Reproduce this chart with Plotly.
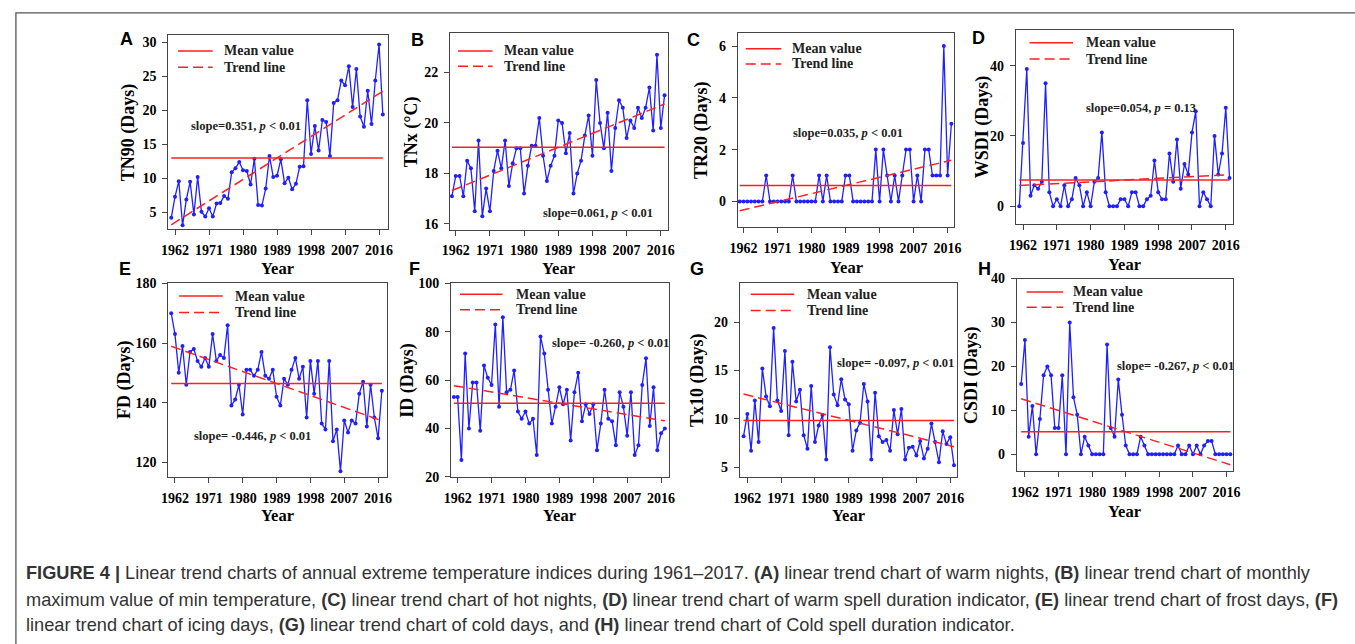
import numpy as np
import plotly.graph_objects as go

years = list(range(1961, 2018))

tn90 = [4.2, 7.3, 9.6, 3.1, 6.9, 9.5, 4.7, 10.2, 5.1, 4.4,
        5.6, 4.4, 6.3, 6.4, 7.4, 7.0, 10.9, 11.5, 12.4, 11.2,
        11.1, 9.1, 12.9, 6.1, 6.0, 8.5, 13.3, 10.2, 10.4, 12.8,
        9.3, 10.1, 8.4, 9.2, 11.7, 11.8, 21.5, 13.6, 17.7, 14.1,
        18.6, 18.3, 13.3, 21.1, 21.5, 24.4, 23.7, 26.5, 20.5, 26.1,
        19.1, 17.6, 22.9, 18.0, 24.4, 29.7, 19.4]

tnx = [17.1, 17.9, 17.9, 17.1, 18.5, 18.2, 16.5, 19.3, 16.3, 17.4,
       16.5, 18.1, 18.9, 18.2, 19.3, 17.5, 18.4, 19.0, 19.0, 17.2,
       18.3, 19.1, 19.1, 20.2, 18.7, 17.7, 18.3, 18.7, 20.1, 20.0,
       18.8, 19.6, 17.2, 18.0, 18.5, 19.5, 20.3, 18.7, 21.7, 20.0,
       19.0, 20.4, 18.1, 19.8, 20.9, 20.6, 19.4, 20.1, 19.8, 20.6,
       20.2, 20.6, 21.4, 19.7, 22.7, 19.8, 21.1]

tr20 = [0, 0, 0, 0, 0, 0, 0, 1, 0, 0,
        0, 0, 0, 0, 1, 0, 0, 0, 0, 0,
        0, 1, 0, 1, 0, 0, 0, 0, 1, 1,
        0, 0, 0, 0, 0, 0, 2, 0, 2, 1,
        0, 1, 0, 1, 2, 2, 0, 1, 0, 2,
        2, 1, 1, 1, 6, 1, 3]

wsdi = [0, 18, 39, 3, 6, 5, 7, 35, 4, 0,
        2, 0, 6, 0, 2, 8, 6, 0, 4, 0,
        7, 8, 21, 4, 0, 0, 0, 2, 2, 0,
        4, 4, 0, 0, 2, 3, 13, 4, 2, 2,
        15, 7, 19, 5, 12, 9, 21, 27, 0, 4,
        2, 0, 20, 9, 15, 28, 8]

fd = [170, 163, 150, 159, 146, 157, 158, 154, 152, 155,
      152, 163, 154, 156, 155, 166, 139, 141, 146, 136,
      151, 151, 149, 151, 157, 149, 148, 151, 142, 139,
      148, 146, 151, 155, 148, 152, 135, 154, 143, 154,
      133, 131, 154, 127, 131, 117, 134, 130, 134, 133,
      143, 147, 132, 146, 135, 128, 144]

id_days = [53, 53, 27, 71, 40, 59, 59, 39, 66, 61,
           58, 83, 49, 86, 55, 56, 64, 47, 44, 47,
           42, 44, 29, 78, 71, 56, 42, 49, 57, 50,
           56, 35, 55, 63, 43, 50, 46, 50, 31, 42,
           56, 44, 43, 33, 55, 49, 37, 55, 29, 33,
           58, 69, 41, 57, 31, 38, 40]

tx10 = [8.2, 10.5, 6.7, 11.9, 7.6, 15.2, 12.3, 11.3, 19.4, 11.9,
        10.8, 17.0, 8.3, 15.9, 11.8, 13.0, 8.3, 6.9, 13.4, 7.6,
        9.3, 10.4, 5.8, 17.4, 12.5, 11.4, 14.1, 12.0, 11.5, 6.7,
        8.8, 9.6, 13.6, 11.8, 5.8, 12.7, 8.2, 7.6, 7.8, 6.7,
        10.9, 8.4, 11.0, 5.8, 7.0, 7.1, 6.2, 7.7, 5.9, 6.9,
        9.5, 7.6, 5.5, 8.7, 7.4, 8.1, 5.2]

csdi = [16, 26, 4, 11, 0, 8, 18, 20, 18, 6,
        6, 18, 0, 30, 13, 9, 0, 4, 2, 0,
        0, 0, 0, 25, 6, 4, 17, 9, 2, 0,
        0, 0, 4, 2, 0, 0, 0, 0, 0, 0,
        0, 0, 2, 0, 0, 2, 0, 2, 0, 2,
        3, 3, 0, 0, 0, 0, 0]

panel_letters = ["A", "B", "C", "D", "E", "F", "G", "H"]
y_titles = ["TN90 (Days)", "TNx (\u00b0C)", "TR20 (Days)", "WSDI (Days)",
            "FD (Days)", "ID (Days)", "Tx10 (Days)", "CSDI (Days)"]
slope_labels = ["slope=0.351, <i>p</i> < 0.01", "slope=0.061, <i>p</i> < 0.01",
                "slope=0.035, <i>p</i> < 0.01", "slope=0.054, <i>p</i> = 0.13",
                "slope= -0.446, <i>p</i> < 0.01", "slope= -0.260, <i>p</i> < 0.01",
                "slope= -0.097, <i>p</i> < 0.01", "slope= -0.267, <i>p</i> < 0.01"]
y_ticks = [[5, 10, 15, 20, 25, 30], [16, 18, 20, 22], [0, 2, 4, 6], [0, 20, 40],
           [120, 140, 160, 180], [20, 40, 60, 80, 100], [5, 10, 15, 20], [0, 10, 20, 30, 40]]
x_ticks = [1962, 1971, 1980, 1989, 1998, 2007, 2016]
series = [tn90, tnx, tr20, wsdi, fd, id_days, tx10, csdi]
legend_labels = ["Mean value", "Trend line"]

W, H = 1355, 644
def px(x):
    return x / W
def py(y):
    return 1 - y / H

# layout (pixel boxes, ranges, positions)
layout_spec = [
    dict(box=(162, 384, 29, 227), xr=(1960.2, 2018.3), yr=(2.6, 31.05), slope=(241, 122),
         letter=(120, 33), ytx=121.7, yeary=268, leg=(172, 207, 216, 45, 61.7)),
    dict(box=(447, 667, 27, 228), xr=(1960.5, 2017.8), yr=(15.77, 23.55), slope=(597, 211),
         letter=(414, 34), ytx=408.3, yeary=268, leg=(455, 490, 500, 45, 60.7)),
    dict(box=(738, 957, 27, 225), xr=(1960.5, 2017.8), yr=(-0.98, 6.49), slope=(849, 129),
         letter=(693, 34), ytx=700.7, yeary=267, leg=(746, 782, 791, 42.7, 58.3)),
    dict(box=(1019, 1239, 24, 222), xr=(1960.05, 2018.0), yr=(-5, 50), slope=(1146, 103),
         letter=(981, 32), ytx=985, yeary=264, leg=(1033, 1077, 1088, 36.7, 53.3)),
    dict(box=(162, 383, 283, 481), xr=(1960.2, 2018.3), yr=(115.1, 180), slope=(247, 439),
         letter=(118, 268), ytx=117.3, yeary=521, leg=(173, 217, 228, 296, 312.7)),
    dict(box=(448, 668, 283, 481), xr=(1960.25, 2018.0), yr=(20, 100), slope=(609, 344),
         letter=(411, 268), ytx=404, yeary=521, leg=(457, 500, 512, 294, 310)),
    dict(box=(740, 960, 283, 481), xr=(1960.0, 2017.9), yr=(4.0, 24.0), slope=(897, 364),
         letter=(697, 268), ytx=696.7, yeary=521, leg=(751, 795, 806, 294, 310.7)),
    dict(box=(1020, 1239, 278, 475), xr=(1959.8, 2017.8), yr=(-3.8, 40), slope=(1181, 368),
         letter=(987, 268), ytx=975, yeary=517, leg=(1030, 1067, 1075, 291.7, 307.3)),
]

BLUE = "#2020ff"
RED = "#ff1f1f"
AXC = "#444444"
SERIF = "Liberation Serif, Times New Roman, serif"
SANS = "Liberation Sans, Arial, sans-serif"

fig = go.Figure()
annotations = []
shapes = []
layout_axes = {}

for i, (vals, spec) in enumerate(zip(series, layout_spec)):
    n = i + 1
    xa = "x" if n == 1 else f"x{n}"
    ya = "y" if n == 1 else f"y{n}"
    xkey = "xaxis" if n == 1 else f"xaxis{n}"
    ykey = "yaxis" if n == 1 else f"yaxis{n}"
    x0, x1, y0, y1 = spec["box"]
    arr = np.array(vals, dtype=float)
    yrs = np.array(years, dtype=float)
    mean_v = arr.mean()
    k, b = np.polyfit(yrs, arr, 1)

    fig.add_trace(go.Scatter(x=years, y=vals, mode="lines+markers", xaxis=xa, yaxis=ya,
                             line=dict(color=BLUE, width=1.3), marker=dict(color=BLUE, size=4),
                             showlegend=False, hoverinfo="skip"))
    fig.add_trace(go.Scatter(x=[years[0], years[-1]], y=[mean_v, mean_v], mode="lines",
                             xaxis=xa, yaxis=ya, line=dict(color=RED, width=1.5),
                             showlegend=False, hoverinfo="skip"))
    fig.add_trace(go.Scatter(x=[years[0], years[-1]], y=[k * years[0] + b, k * years[-1] + b],
                             mode="lines", xaxis=xa, yaxis=ya,
                             line=dict(color=RED, width=1.5, dash="10px,5px"),
                             showlegend=False, hoverinfo="skip"))

    common = dict(showline=True, linecolor=AXC, linewidth=1, mirror=True, ticks="outside",
                  ticklen=5, tickcolor=AXC, tickwidth=1, showgrid=False, zeroline=False,
                  tickfont=dict(family=SERIF, size=14, color="black", weight="bold"))
    layout_axes[xkey] = dict(domain=[px(x0), px(x1)], range=list(spec["xr"]), anchor=ya,
                             tickvals=x_ticks, ticklabelstandoff=3, **common)
    layout_axes[ykey] = dict(domain=[py(y1), py(y0)], range=list(spec["yr"]), anchor=xa,
                             tickvals=y_ticks[i], ticklabelstandoff=3, **common)

    # legend
    lx0, lx1, tx, ym, yt = spec["leg"]
    shapes.append(dict(type="line", xref="paper", yref="paper", x0=px(lx0), x1=px(lx1),
                       y0=py(ym), y1=py(ym), line=dict(color=RED, width=1.5)))
    shapes.append(dict(type="line", xref="paper", yref="paper", x0=px(lx0), x1=px(lx1),
                       y0=py(yt), y1=py(yt), line=dict(color=RED, width=1.5, dash="10px,5px")))
    for lab, yy in zip(legend_labels, [ym, yt]):
        annotations.append(dict(text=lab, xref="paper", yref="paper", x=px(tx), y=py(yy),
                                xanchor="left", yanchor="middle", showarrow=False,
                                font=dict(family=SERIF, size=14, color="#222", weight="bold")))
    # slope label
    sx, sy = spec["slope"]
    annotations.append(dict(text=slope_labels[i], xref="paper", yref="paper", x=px(sx), y=py(sy),
                            xanchor="center", yanchor="middle", showarrow=False,
                            font=dict(family=SERIF, size=12.5, color="#222", weight="bold")))
    # panel letter
    lx, ly = spec["letter"]
    annotations.append(dict(text=panel_letters[i], xref="paper", yref="paper", x=px(lx), y=py(ly),
                            xanchor="center", yanchor="middle", showarrow=False,
                            font=dict(family=SANS, size=18, color="black", weight="bold")))
    # y title
    annotations.append(dict(text=y_titles[i], xref="paper", yref="paper", x=px(spec["ytx"]),
                            y=py((y0 + y1) / 2), xanchor="center", yanchor="middle",
                            textangle=-90, showarrow=False,
                            font=dict(family=SERIF, size=18, color="black", weight="bold")))
    # x title
    annotations.append(dict(text="Year", xref="paper", yref="paper", x=px((x0 + x1) / 2),
                            y=py(spec["yeary"]), xanchor="center", yanchor="middle",
                            showarrow=False,
                            font=dict(family=SERIF, size=16.5, color="black", weight="bold")))

caption_lines = [
    "<b>FIGURE 4 |</b> Linear trend charts of annual extreme temperature indices during 1961\u20132017. "
    "<b>(A)</b> linear trend chart of warm nights, <b>(B)</b> linear trend chart of monthly",
    "maximum value of min temperature, <b>(C)</b> linear trend chart of hot nights, <b>(D)</b> linear trend "
    "chart of warm spell duration indicator, <b>(E)</b> linear trend chart of frost days, <b>(F)</b>",
    "linear trend chart of icing days, <b>(G)</b> linear trend chart of cold days, and <b>(H)</b> linear "
    "trend chart of Cold spell duration indicator.",
]
for cl, cy in zip(caption_lines, [579, 607, 633]):
    annotations.append(dict(text=cl, xref="paper", yref="paper", x=px(16), y=py(cy),
                            xanchor="left", yanchor="middle", showarrow=False,
                            font=dict(family=SANS, size=18.2, color="#333333")))

shapes.append(dict(type="rect", xref="paper", yref="paper", x0=px(8), y0=py(6), x1=1.02, y1=-0.02,
                   line=dict(color="#555555", width=1.3)))

fig.update_layout(width=W, height=H, margin=dict(l=0, r=0, t=0, b=0),
                  paper_bgcolor="white", plot_bgcolor="white",
                  annotations=annotations, shapes=shapes, showlegend=False, **layout_axes)

fig.write_html("out.html", config={"displayModeBar": False},
               post_script="document.body.style.margin='0';")
